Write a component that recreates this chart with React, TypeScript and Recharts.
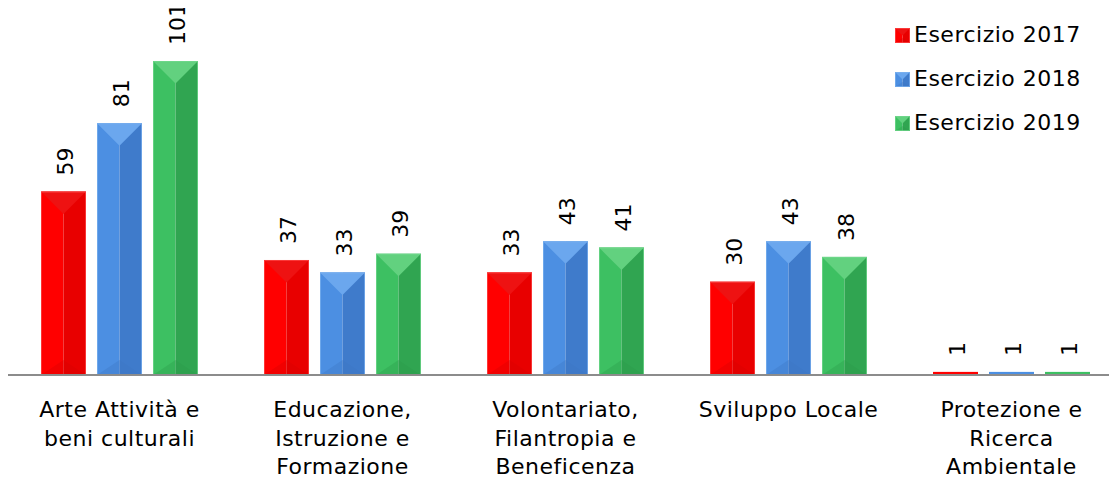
import React from "react";
import { BarChart, Bar, XAxis, YAxis, LabelList } from "recharts";

const categories = [
  "Arte Attività e\nbeni culturali",
  "Educazione,\nIstruzione e\nFormazione",
  "Volontariato,\nFilantropia e\nBeneficenza",
  "Sviluppo Locale",
  "Protezione e\nRicerca\nAmbientale",
];
const esercizio2017 = [59, 37, 33, 30, 1];
const esercizio2018 = [81, 33, 43, 43, 1];
const esercizio2019 = [101, 39, 41, 38, 1];

const seriesNames = ["Esercizio 2017", "Esercizio 2018", "Esercizio 2019"];

const FONT = "'DejaVu Sans', sans-serif";

type Palette = { left: string; right: string; top: string; bottom: string; edge: string };

const palettes: Palette[] = [
  { left: "#ff0000", right: "#e80000", top: "#ee1212", bottom: "#d80000", edge: "#ff4a4a" },
  { left: "#4c8fe2", right: "#3f7bcb", top: "#6ba7ee", bottom: "#3b76c4", edge: "#7db2f0" },
  { left: "#3dc062", right: "#30a551", top: "#62d17f", bottom: "#2c9c4b", edge: "#74d98e" },
];

const rows = categories.map((name, i) => ({
  name,
  y2017: esercizio2017[i],
  y2018: esercizio2018[i],
  y2019: esercizio2019[i],
}));

// beveled bar, like the old office 3d-ish look
function BevelBar(props: any) {
  const { x, y, width: w, height: h, palette } = props;
  if (!w || !h || h <= 0) return null;
  const p: Palette = palette;
  if (h < 8) {
    return <rect x={x} y={y} width={w} height={h} fill={p.left} />;
  }
  const cx = x + w / 2;
  const d = Math.min(w / 2, h / 2);
  const bd = Math.min(w / 3, h / 3);
  return (
    <g>
      <rect x={x} y={y} width={w / 2} height={h} fill={p.left} />
      <rect x={cx} y={y} width={w / 2} height={h} fill={p.right} />
      <polygon points={`${x},${y} ${x + w},${y} ${cx},${y + d}`} fill={p.top} />
      <polygon points={`${x},${y + h} ${x + w},${y + h} ${cx},${y + h - bd}`} fill={p.bottom} opacity={0.35} />
      <rect x={x + 0.5} y={y + 0.5} width={w - 1} height={h - 1} fill="none" stroke={p.edge} strokeWidth={1} opacity={0.7} />
    </g>
  );
}

function CategoryTick(props: any) {
  const { x, y, payload } = props;
  const lines = String(payload.value).split("\n");
  return (
    <text x={x} y={y} textAnchor="middle" fontFamily={FONT} fontSize={22} letterSpacing={0.5} fill="#000">
      {lines.map((line, i) => (
        <tspan key={i} x={x} y={y + 34 + i * 28.5}>
          {line}
        </tspan>
      ))}
    </text>
  );
}

function RotatedLabel(props: any) {
  const { x, y, width, value } = props;
  const tx = Number(x) + Number(width) / 2 + 9;
  const ty = Number(y) - 16;
  return (
    <text
      transform={`translate(${tx},${ty}) rotate(-90)`}
      textAnchor="start"
      fontFamily={FONT}
      fontSize={22}
      fill="#000"
    >
      {value}
    </text>
  );
}

function Legend() {
  return (
    <div style={{ position: "absolute", left: 895, top: 0 }}>
      {seriesNames.map((name, i) => (
        <div key={name} style={{ position: "absolute", left: 0, top: 20 + i * 44, height: 30, whiteSpace: "nowrap" }}>
          <svg width={15} height={15} style={{ position: "absolute", left: 0, top: 8 }}>
            <BevelBar x={0} y={0} width={15} height={15} palette={palettes[i]} />
          </svg>
          <span
            style={{
              position: "absolute",
              left: 19,
              top: 0,
              fontFamily: FONT,
              fontSize: 22,
              letterSpacing: 0.5,
              lineHeight: "30px",
              color: "#000",
            }}
          >
            {name}
          </span>
        </div>
      ))}
    </div>
  );
}

export default function App() {
  const keys = ["y2017", "y2018", "y2019"];
  return (
    <div style={{ position: "relative", marginLeft: -8, marginTop: -8, width: 1117, height: 482, overflow: "hidden", background: "#fff" }}>
      <BarChart
        width={1125}
        height={482}
        data={rows}
        margin={{ top: 2, right: 2, left: 0, bottom: 0 }}
        barSize={45}
        barGap={11}
      >
        <XAxis
          dataKey="name"
          height={107}
          interval={0}
          padding={{ left: 8, right: 0 }}
          tickLine={false}
          axisLine={{ stroke: "#8c8c8c", strokeWidth: 2 }}
          tick={<CategoryTick />}
        />
        <YAxis hide domain={[0, 120]} />
        {keys.map((k, i) => (
          <Bar
            key={k}
            dataKey={k}
            name={seriesNames[i]}
            fill={palettes[i].left}
            isAnimationActive={false}
            shape={(p: any) => <BevelBar {...p} palette={palettes[i]} />}
          >
            <LabelList dataKey={k} content={<RotatedLabel />} />
          </Bar>
        ))}
      </BarChart>
      <Legend />
    </div>
  );
}
